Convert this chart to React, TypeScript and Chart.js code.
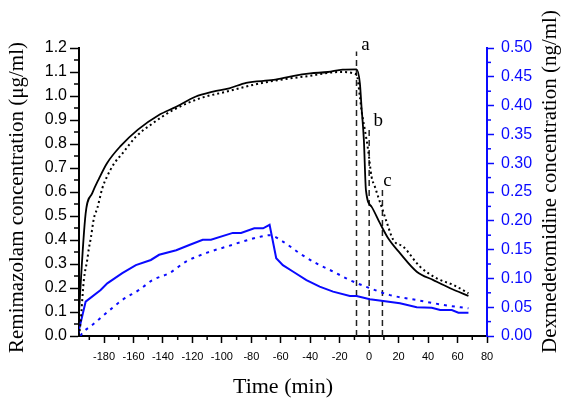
import React, { useEffect, useRef } from "react";
import { Chart, registerables } from "chart.js";

Chart.register(...registerables);

// Remimazolam measured (solid black), left axis µg/ml
const remiSolidT = [-198, -192.5, -188, -183.5, -178, -169, -157, -143, -131, -118, -106, -95, -83.5, -65, -52, -40, -28, -18, -8.6, -6.3, -5.2, -3.6, -2.2, 1.6, 7.3, 12.9, 20.9, 32.3, 43.6, 55, 67.4];
const remiSolidV = [0, 0.51, 0.595, 0.655, 0.72, 0.79, 0.86, 0.92, 0.955, 0.997, 1.018, 1.032, 1.055, 1.067, 1.083, 1.094, 1.1, 1.11, 1.111, 1.053, 0.955, 0.817, 0.608, 0.539, 0.47, 0.407, 0.345, 0.268, 0.233, 0.199, 0.167];

// Remimazolam predicted (dotted black)
const remiDotT = [-197, -196, -193.7, -191.4, -190.3, -189, -186.9, -184.6, -181.2, -178, -173, -167.6, -158.4, -147, -133.5, -115, -97, -79, -61, -41.5, -20, -8.6, -6.3, -5.2, -2.9, -0.7, 1.6, 3.9, 6.1, 8.4, 11.8, 16.4, 23.2, 34.5, 45.9, 57.2, 67.4];
const remiDotV = [0, 0.053, 0.233, 0.317, 0.365, 0.407, 0.49, 0.532, 0.615, 0.664, 0.72, 0.76, 0.83, 0.886, 0.94, 0.99, 1.018, 1.046, 1.067, 1.083, 1.1, 1.09, 0.997, 0.94, 0.858, 0.775, 0.664, 0.622, 0.58, 0.539, 0.476, 0.4, 0.372, 0.289, 0.24, 0.2125, 0.178];

// Dexmedetomidine measured (solid blue), right axis ng/ml
const dexSolidT = [-198, -192.5, -182.3, -177.8, -167.6, -158.4, -148.2, -142.6, -131, -122.1, -113, -107.4, -92.6, -87, -78, -72, -67.6, -63.1, -58.6, -51.8, -42.6, -33.6, -24.5, -13.1, -8.6, 0.5, 9.5, 20.9, 32.3, 42.5, 48.2, 56.1, 60.6, 67.4];
const dexSolidV = [0, 0.0596, 0.08, 0.0915, 0.109, 0.123, 0.132, 0.141, 0.149, 0.158, 0.167, 0.167, 0.179, 0.179, 0.187, 0.187, 0.193, 0.135, 0.123, 0.112, 0.097, 0.0856, 0.077, 0.0694, 0.0694, 0.0637, 0.0608, 0.0567, 0.0498, 0.049, 0.045, 0.045, 0.0405, 0.0405];

// Dexmedetomidine predicted (dotted blue)
const dexDotT = [-196, -194.8, -188, -178.9, -167.6, -156.2, -147.1, -135.8, -124.4, -108.5, -97, -85.8, -74.5, -67.6, -58.6, -47.2, -35.8, -24.5, -13.1, 0.5, 14.1, 32.3, 50.4, 67.4];
const dexDotV = [0, 0.005, 0.019, 0.039, 0.0625, 0.08, 0.097, 0.109, 0.129, 0.146, 0.155, 0.164, 0.172, 0.175, 0.164, 0.1435, 0.126, 0.112, 0.097, 0.083, 0.071, 0.0625, 0.054, 0.048];

// Vertical marker lines a, b, c
const markerLabels = ["a", "b", "c"];
const markerT = [-8.6, 0, 9];
const markerTop = [1.185, 0.865, 0.615];

const xTitle = "Time (min)";
const yLeftTitle = "Remimazolam concentration (μg/ml)";
const yRightTitle = "Dexmedetomidine concentration (ng/ml)";

const BLUE = "#0a0aff";

const zip = (t: number[], v: number[]) => t.map((x, i) => ({ x, y: v[i] }));

const decorPlugin = {
  id: "decor",
  afterDraw(chart: any) {
    const ctx = chart.ctx;
    const xs = chart.scales.x;
    const yl = chart.scales.y;
    const yr = chart.scales.y2;
    ctx.save();
    // minor ticks
    ctx.lineWidth = 1.5;
    ctx.strokeStyle = "#000";
    for (let v = -190; v <= 70; v += 20) {
      const px = xs.getPixelForValue(v);
      ctx.beginPath();
      ctx.moveTo(px, xs.top);
      ctx.lineTo(px, xs.top + 4);
      ctx.stroke();
    }
    for (let i = 0; i < 12; i++) {
      const v = i * 0.1 + 0.05;
      const py = yl.getPixelForValue(v);
      ctx.beginPath();
      ctx.moveTo(yl.right, py);
      ctx.lineTo(yl.right - 5, py);
      ctx.stroke();
    }
    ctx.strokeStyle = BLUE;
    for (let i = 0; i < 10; i++) {
      const v = i * 0.05 + 0.025;
      const py = yr.getPixelForValue(v);
      ctx.beginPath();
      ctx.moveTo(yr.left, py);
      ctx.lineTo(yr.left + 4, py);
      ctx.stroke();
    }
    // marker labels
    ctx.fillStyle = "#000";
    ctx.font = "19px 'Liberation Serif', serif";
    ctx.textAlign = "center";
    ctx.textBaseline = "middle";
    markerLabels.forEach((lab, i) => {
      const px = xs.getPixelForValue(markerT[i]);
      const py = yl.getPixelForValue(markerTop[i]);
      ctx.fillText(lab, px + (i === 2 ? 5 : 9), py - 7);
    });
    // y titles, reading bottom to top
    ctx.font = "21px 'Liberation Serif', serif";
    ctx.textAlign = "left";
    ctx.textBaseline = "middle";
    ctx.save();
    ctx.translate(17, 353);
    ctx.rotate(-Math.PI / 2);
    ctx.fillText(yLeftTitle, 0, 0);
    ctx.restore();
    ctx.save();
    ctx.translate(550, 353);
    ctx.rotate(-Math.PI / 2);
    ctx.fillText(yRightTitle, 0, 0);
    ctx.restore();
    ctx.restore();
  },
};

export default function App() {
  const ref = useRef<HTMLCanvasElement | null>(null);
  useEffect(() => {
    if (!ref.current) return;
    const markerSets = markerT.map((t, i) => ({
      data: [{ x: t, y: 0 }, { x: t, y: markerTop[i] }],
      borderColor: "#222",
      borderWidth: 1.5,
      borderDash: [6, 4],
      pointRadius: 0,
      yAxisID: "y",
      fill: false,
    }));
    const chart = new Chart(ref.current, {
      type: "line",
      data: {
        datasets: [
          {
            data: zip(remiSolidT, remiSolidV),
            borderColor: "#000",
            borderWidth: 1.8,
            pointRadius: 0,
            cubicInterpolationMode: "monotone",
            yAxisID: "y",
          },
          {
            data: zip(remiDotT, remiDotV),
            borderColor: "#000",
            borderWidth: 2,
            borderDash: [2, 3],
            pointRadius: 0,
            cubicInterpolationMode: "monotone",
            yAxisID: "y",
          },
          {
            data: zip(dexSolidT, dexSolidV),
            borderColor: BLUE,
            borderWidth: 2,
            pointRadius: 0,
            yAxisID: "y2",
          },
          {
            data: zip(dexDotT, dexDotV),
            borderColor: BLUE,
            borderWidth: 2,
            borderDash: [3, 5],
            pointRadius: 0,
            cubicInterpolationMode: "monotone",
            yAxisID: "y2",
          },
          ...markerSets,
        ] as any,
      },
      options: {
        animation: false,
        responsive: false,
        maintainAspectRatio: false,
        layout: { padding: { top: 48, left: 0, right: 0, bottom: 0 } },
        plugins: { legend: { display: false }, tooltip: { enabled: false } },
        scales: {
          x: {
            type: "linear",
            min: -197,
            max: 80,
            afterFit: (s: any) => {
              s.height = 64;
            },
            border: { color: "#000", width: 2 },
            grid: { drawOnChartArea: false, tickLength: 7, tickColor: "#000", tickWidth: 1.5 },
            ticks: {
              stepSize: 20,
              includeBounds: false,
              padding: 7,
              color: "#000",
              maxRotation: 0,
              autoSkip: false,
              font: { family: "'Liberation Sans', Arial, sans-serif", size: 11 },
            },
            title: {
              display: true,
              text: xTitle,
              color: "#000",
              font: { family: "'Liberation Serif', serif", size: 22 },
              padding: { top: 0.3, bottom: 0 },
            },
          },
          y: {
            type: "linear",
            position: "left",
            min: 0,
            max: 1.2,
            afterFit: (s: any) => {
              s.width = 79;
            },
            border: { color: "#000", width: 2 },
            grid: { drawOnChartArea: false, tickLength: 9, tickColor: "#000", tickWidth: 1.5 },
            ticks: {
              stepSize: 0.1,
              padding: 3,
              color: "#000",
              callback: (v: any) => Number(v).toFixed(1),
              font: { family: "'Liberation Sans', Arial, sans-serif", size: 16 },
            },
          },
          y2: {
            type: "linear",
            position: "right",
            min: 0,
            max: 0.5,
            afterFit: (s: any) => {
              s.width = 80;
            },
            border: { color: BLUE, width: 2 },
            grid: { drawOnChartArea: false, tickLength: 7, tickColor: BLUE, tickWidth: 1.5 },
            ticks: {
              stepSize: 0.05,
              padding: 7,
              color: BLUE,
              callback: (v: any) => Number(v).toFixed(2),
              font: { family: "'Liberation Sans', Arial, sans-serif", size: 16 },
            },
          },
        },
      } as any,
      plugins: [decorPlugin],
    });
    return () => chart.destroy();
  }, []);
  return (
    <div style={{ position: "fixed", left: 0, top: 0, width: 567, height: 400, background: "#fff" }}>
      <canvas ref={ref} width={567} height={400} />
    </div>
  );
}
